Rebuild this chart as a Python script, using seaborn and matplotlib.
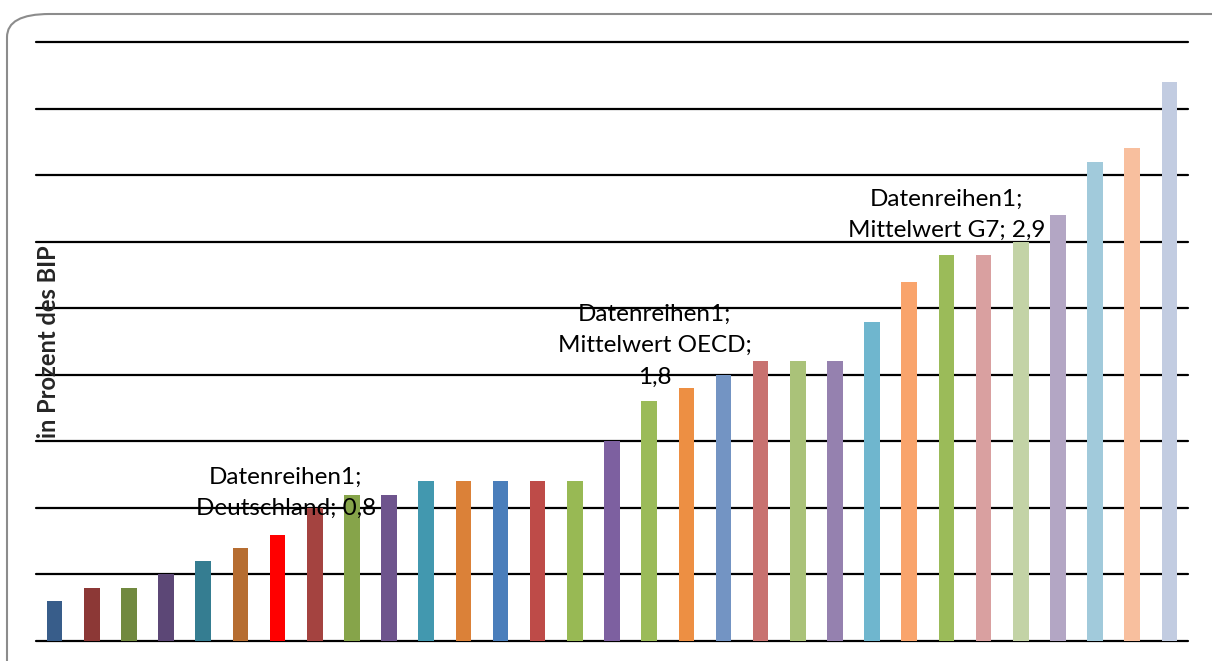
import pandas as pd
import matplotlib
matplotlib.use("Agg")
import matplotlib.pyplot as plt
import seaborn as sns
from matplotlib.patches import FancyBboxPatch

# Daten (in Prozent des BIP)
laender = [f"L{i}" for i in range(1, 32)]
werte = [0.3, 0.4, 0.4, 0.5, 0.6, 0.7, 0.8, 1.0, 1.1, 1.1, 1.2, 1.2, 1.2, 1.2, 1.2,
         1.5, 1.8, 1.9, 2.0, 2.1, 2.1, 2.1, 2.4, 2.7, 2.9, 2.9, 3.0, 3.2, 3.6, 3.7, 4.2]
farben = ["#385D8A", "#8C3836", "#71893F", "#5C4776", "#357D91", "#B66D31", "#FF0000",
          "#A44340", "#86A44A", "#6E548D", "#4298AF", "#DB8138", "#4A7EBB", "#BE4B48",
          "#98B954", "#7D60A0", "#9BBB59", "#ED8F43", "#7394C3", "#C87270", "#AAC279",
          "#9581AF", "#6FB6CE", "#F9A46C", "#9BBB59", "#D9A0A0", "#C3D3A6", "#B3A6C4",
          "#A1CADB", "#F8BF9E", "#C2CCE1"]
beschriftungen = {
    6: "Datenreihen1;\nDeutschland; 0,8",
    16: "Datenreihen1;\nMittelwert OECD;\n1,8",
    24: "Datenreihen1;\nMittelwert G7; 2,9",
}
versatz = {6: (6, 11), 16: (4, 10), 24: (0, 10)}

df = pd.DataFrame({"land": laender, "wert": werte})

sns.set_style("white")
plt.rcParams["font.family"] = ["Lato", "DejaVu Sans"]

fig = plt.figure(figsize=(12.12, 6.61), dpi=100)
ax = fig.add_axes([36 / 1212, 20 / 661, 1152 / 1212, 599 / 661])

# Rahmen mit runden Ecken
rahmen = FancyBboxPatch((7 / 1212, -0.05), 1.05, 0.05 + 647 / 661,
                        boxstyle="round,pad=0,rounding_size=0.035",
                        transform=fig.transFigure, facecolor="none",
                        edgecolor="#8C8C8C", linewidth=1.5, zorder=0)
fig.patches.append(rahmen)

# Gitterlinien hinter den Balken
for y in [i * 0.5 for i in range(0, 10)]:
    ax.axhline(y, color="black", linewidth=1.6, zorder=0, clip_on=False)

sns.barplot(data=df, x="land", y="wert", hue="land", palette=farben,
            legend=False, width=0.42, saturation=1, linewidth=0, ax=ax, zorder=2)

for idx, text in beschriftungen.items():
    dx, dy = versatz[idx]
    ax.annotate(text, xy=(idx, werte[idx]), xytext=(dx, dy), textcoords="offset points",
                ha="center", va="bottom", fontsize=17.5, linespacing=1.6,
                color="black", zorder=5)

ax.set_xlim(-0.5, 30.5)
ax.set_ylim(0, 4.5)
ax.set_xticks([])
ax.set_yticks([])
ax.set_xlabel("")
ax.set_ylabel("")
for s in ax.spines.values():
    s.set_visible(False)

ax.text(0.011, 2.25, "in Prozent des BIP", rotation=90, ha="center", va="center",
        fontsize=17, fontweight="bold", transform=ax.get_yaxis_transform(), zorder=5)

fig.savefig("out.png", dpi=100)
